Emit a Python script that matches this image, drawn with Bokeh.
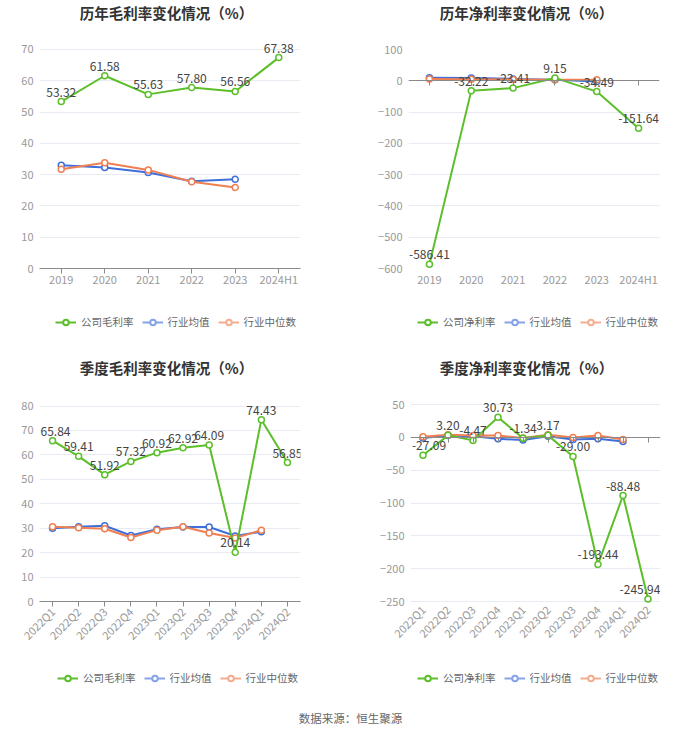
import math
from bokeh.plotting import figure
from bokeh.models import (ColumnDataSource, Range1d, FactorRange, LabelSet, Legend,
                          LegendItem, CategoricalAxis, FixedTicker, Label)
from bokeh.layouts import column, row
from bokeh.core.properties import value
from bokeh.embed import file_html
from bokeh.resources import INLINE

# ---------------- data ----------------
years = ["2019", "2020", "2021", "2022", "2023", "2024H1"]
year_gross_company = [53.32, 61.58, 55.63, 57.80, 56.56, 67.38]
year_gross_avg = [33.0, 32.3, 30.7, 27.9, 28.5]
year_gross_median = [31.7, 33.8, 31.5, 27.7, 25.9]

year_net_company = [-586.41, -32.22, -23.41, 9.15, -34.49, -151.64]
year_net_avg = [10.0, 9.0, 6.0, 3.0, -2.0]
year_net_median = [6.0, 5.0, 4.0, 3.0, 3.0]

quarters = ["2022Q1", "2022Q2", "2022Q3", "2022Q4", "2023Q1", "2023Q2",
            "2023Q3", "2023Q4", "2024Q1", "2024Q2"]
q_gross_company = [65.84, 59.41, 51.92, 57.32, 60.92, 62.92, 64.09, 20.14, 74.43, 56.85]
q_gross_avg = [30.0, 30.6, 31.0, 27.0, 29.6, 30.5, 30.5, 26.8, 28.6]
q_gross_median = [30.6, 30.2, 29.8, 26.2, 29.2, 30.6, 28.0, 26.0, 29.2]

q_net_company = [-27.09, 3.20, -4.47, 30.73, -1.34, 3.17, -29.00, -193.44, -88.48, -245.94]
q_net_avg = [-1.0, 3.0, 2.0, -2.0, -4.0, 2.0, -3.0, -2.0, -6.0]
q_net_median = [1.0, 4.0, 3.0, 3.0, -1.0, 4.0, 0.0, 3.0, -3.0]

gross_ticks = [0, 10, 20, 30, 40, 50, 60, 70]
year_net_ticks = [-600, -500, -400, -300, -200, -100, 0, 100]
q_gross_ticks = [0, 10, 20, 30, 40, 50, 60, 70, 80]
q_net_ticks = [-250, -200, -150, -100, -50, 0, 50]

legend_names_gross = ["公司毛利率", "行业均值", "行业中位数"]
legend_names_net = ["公司净利率", "行业均值", "行业中位数"]
source_text = "数据来源：恒生聚源"

FONT = "Noto Sans CJK SC"
GREEN = "#5cbf2a"
BLUE = "#3f6fd8"
ORANGE = "#f07f52"
BLUE_L = "#86a3e8"
ORANGE_L = "#f5ad90"
NAN = float("nan")


def blank_fig(width, height):
    f = figure(width=width, height=height, output_backend="svg", toolbar_location=None,
               x_range=Range1d(0, 1), y_range=Range1d(0, 1),
               min_border_left=0, min_border_right=0, min_border_top=0, min_border_bottom=0)
    f.axis.visible = False
    f.grid.visible = False
    f.outline_line_color = None
    f.background_fill_color = "white"
    f.border_fill_color = "white"
    return f


def title_fig(text, height, x, y):
    # x is measured from the (column-aligned) frame left edge
    f = blank_fig(350, height)
    f.add_layout(Label(x=x, y=y, x_units="screen", y_units="screen", text=text,
                       text_align="center", text_baseline="middle", text_font=FONT,
                       text_font_size="14.5px", text_font_style="bold", text_color="#333333"))
    return f


def legend_fig(names, height, loc):
    f = blank_fig(350, height)
    items = []
    for nm, col in zip(names, [GREEN, BLUE_L, ORANGE_L]):
        lr = f.line(x=[NAN], y=[NAN], line_color=col, line_width=2)
        cr = f.scatter(x=[NAN], y=[NAN], size=10, line_color=col, fill_color="white",
                       line_width=2)
        items.append(LegendItem(label=nm, renderers=[lr, cr]))
    leg = Legend(items=items, orientation="horizontal", location=loc,
                 border_line_color=None, background_fill_alpha=0,
                 label_text_font=FONT, label_text_font_size="10.5px",
                 label_text_color="#666666", glyph_width=21, glyph_height=14,
                 spacing=8, padding=0, margin=0, label_standoff=5,
                 label_height=14)
    f.add_layout(leg, "center")
    return f


def make_panel(cats, comp, avg, med, height, borders, yr, ticks, rotated, zero_axis,
               xstandoff, label_dx):
    left, right, top, bottom = borders
    p = figure(width=350, height=height, x_range=FactorRange(*cats),
               y_range=Range1d(*yr), output_backend="svg", toolbar_location=None,
               min_border_left=left, min_border_right=right, min_border_top=top,
               min_border_bottom=bottom)
    p.x_range.factor_padding = 0
    p.x_range.range_padding = 0
    p.outline_line_color = None
    p.background_fill_color = "white"
    p.border_fill_color = "white"

    p.xgrid.grid_line_color = None
    p.ygrid.grid_line_color = "#e8ebf2"
    p.ygrid.ticker = FixedTicker(ticks=ticks)

    ya = p.yaxis[0]
    ya.ticker = FixedTicker(ticks=ticks)
    ya.axis_line_color = None
    ya.major_tick_line_color = None
    ya.minor_tick_line_color = None
    ya.major_tick_out = 0
    ya.major_tick_in = 0
    ya.major_label_standoff = 6
    ya.major_label_text_color = "#999999"
    ya.major_label_text_font = FONT
    ya.major_label_text_font_size = "11px"

    xa = p.xaxis[0]
    xa.major_label_text_color = "#999999"
    xa.major_label_text_font = FONT
    xa.major_label_text_font_size = "11px"
    xa.major_label_standoff = xstandoff
    if rotated:
        xa.major_label_orientation = math.pi / 4
    if zero_axis:
        xa.axis_line_color = None
        xa.major_tick_line_color = None
        xa.major_tick_out = 0
        xa.major_tick_in = 0
        za = CategoricalAxis(fixed_location=0)
        za.axis_line_color = "#8a8a8a"
        za.major_tick_line_color = "#8a8a8a"
        za.major_tick_out = 5
        za.major_tick_in = 0
        za.major_label_text_font_size = "0px"
        za.major_label_text_alpha = 0
        p.add_layout(za, "below")
    else:
        xa.axis_line_color = "#8a8a8a"
        xa.major_tick_line_color = "#8a8a8a"
        xa.major_tick_out = 5
        xa.major_tick_in = 0

    s_avg = ColumnDataSource(dict(x=cats[:len(avg)], y=avg))
    s_med = ColumnDataSource(dict(x=cats[:len(med)], y=med))
    p.line("x", "y", source=s_avg, line_color=BLUE, line_width=2)
    p.scatter("x", "y", source=s_avg, size=6, line_color=BLUE, fill_color="white", line_width=1.5)
    p.line("x", "y", source=s_med, line_color=ORANGE, line_width=2)
    p.scatter("x", "y", source=s_med, size=6, line_color=ORANGE, fill_color="white", line_width=1.5)

    dx = [0] * len(cats)
    dx[0] = label_dx[0]
    dx[-1] = label_dx[1]
    s_c = ColumnDataSource(dict(x=cats, y=comp, label=[f"{v:.2f}" for v in comp], dx=dx))
    p.line("x", "y", source=s_c, line_color=GREEN, line_width=2)
    p.scatter("x", "y", source=s_c, size=6, line_color=GREEN, fill_color="white", line_width=1.5)
    labels = LabelSet(x="x", y="y", text="label", source=s_c, y_offset=5, x_offset="dx",
                      text_align="center", text_baseline="bottom",
                      text_font=value(FONT), text_font_size=value("12px"),
                      text_color="#444444")
    p.add_layout(labels)
    return p


# top row: title 0..25, plot 25..305, legend 305..345
t1 = title_fig("历年毛利率变化情况（%）", 25, 127, 13)
t2 = title_fig("历年净利率变化情况（%）", 25, 118, 13)
p1 = make_panel(years, year_gross_company, year_gross_avg, year_gross_median, 280,
                (39, 50, 2, 37), (0, 77), gross_ticks, False, False, -3, (0, 0))
p2 = make_panel(years, year_net_company, year_net_avg, year_net_median, 280,
                (58, 41, 24, 37), (-600, 100), year_net_ticks, False, True, 2, (0, 0))
l1 = legend_fig(legend_names_gross, 40, (16, 16))
l2 = legend_fig(legend_names_net, 40, (9, 16))

# bottom row: title 345..382, plot 382..662, legend 662..695
t3 = title_fig("季度毛利率变化情况（%）", 37, 127, 15)
t4 = title_fig("季度净利率变化情况（%）", 37, 116, 15)
p3 = make_panel(quarters, q_gross_company, q_gross_avg, q_gross_median, 280,
                (39, 50, 4, 61), (0, 88), q_gross_ticks, True, False, 3, (3, 0))
p4 = make_panel(quarters, q_net_company, q_net_avg, q_net_median, 280,
                (60, 40, 9, 57), (-256, 70), q_net_ticks, True, True, 2, (6, -8))
l3 = legend_fig(legend_names_gross, 33, (18, 10))
l4 = legend_fig(legend_names_net, 33, (7, 10))

foot = blank_fig(700, 38)
foot.add_layout(Label(x=350, y=16, x_units="screen", y_units="screen", text=source_text,
                      text_align="center", text_baseline="middle", text_font=FONT,
                      text_font_size="11.5px", text_color="#666666"))

layout = column(row(column(t1, p1, l1), column(t2, p2, l2)),
                row(column(t3, p3, l3), column(t4, p4, l4)),
                foot)
open("out.html", "w").write(file_html(layout, INLINE))
